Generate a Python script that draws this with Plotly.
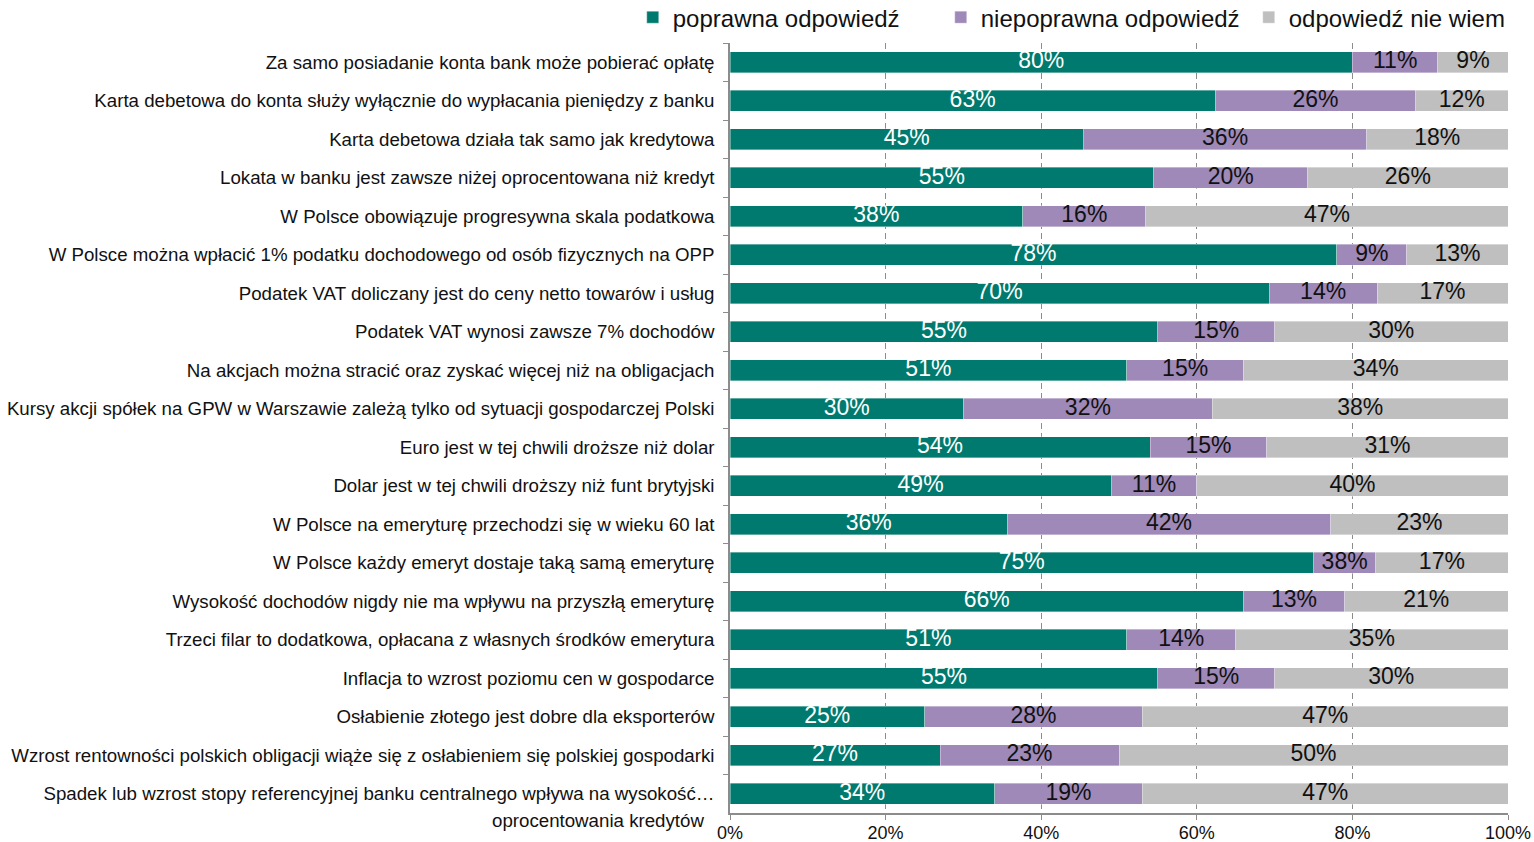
import plotly.graph_objects as go

categories = [
    "Za samo posiadanie konta bank może pobierać opłatę",
    "Karta debetowa do konta służy wyłącznie do wypłacania pieniędzy z banku",
    "Karta debetowa działa tak samo jak kredytowa",
    "Lokata w banku jest zawsze niżej oprocentowana niż kredyt",
    "W Polsce obowiązuje progresywna skala podatkowa",
    "W Polsce można wpłacić 1% podatku dochodowego od osób fizycznych na OPP",
    "Podatek VAT doliczany jest do ceny netto towarów i usług",
    "Podatek VAT wynosi zawsze 7% dochodów",
    "Na akcjach można stracić oraz zyskać więcej niż na obligacjach",
    "Kursy akcji spółek na GPW w Warszawie zależą tylko od sytuacji gospodarczej Polski",
    "Euro jest w tej chwili droższe niż dolar",
    "Dolar jest w tej chwili droższy niż funt brytyjski",
    "W Polsce na emeryturę przechodzi się w wieku 60 lat",
    "W Polsce każdy emeryt dostaje taką samą emeryturę",
    "Wysokość dochodów nigdy nie ma wpływu na przyszłą emeryturę",
    "Trzeci filar to dodatkowa, opłacana z własnych środków emerytura",
    "Inflacja to wzrost poziomu cen w gospodarce",
    "Osłabienie złotego jest dobre dla eksporterów",
    "Wzrost rentowności polskich obligacji wiąże się z osłabieniem się polskiej gospodarki",
    "Spadek lub wzrost stopy referencyjnej banku centralnego wpływa na wysokość…",
]
last_label_second_line = "oprocentowania kredytów"

correct = [80, 63, 45, 55, 38, 78, 70, 55, 51, 30, 54, 49, 36, 75, 66, 51, 55, 25, 27, 34]
incorrect = [11, 26, 36, 20, 16, 9, 14, 15, 15, 32, 15, 11, 42, 8, 13, 14, 15, 28, 23, 19]
dont_know = [9, 12, 18, 26, 47, 13, 17, 30, 34, 38, 31, 40, 23, 17, 21, 35, 30, 47, 50, 47]

# displayed labels (as printed on the chart)
correct_lbl = [f"{v}%" for v in correct]
incorrect_lbl = ["11%", "26%", "36%", "20%", "16%", "9%", "14%", "15%", "15%", "32%",
                 "15%", "11%", "42%", "38%", "13%", "14%", "15%", "28%", "23%", "19%"]
dont_know_lbl = [f"{v}%" for v in dont_know]

series_names = ["poprawna odpowiedź", "niepoprawna odpowiedź", "odpowiedź nie wiem"]
colors = ["#007A6E", "#9E89B8", "#BFBFBF"]
text_colors = ["#FFFFFF", "#111111", "#111111"]

FONT = "Liberation Sans, Arial, sans-serif"

fig = go.Figure()
series = [correct, incorrect, dont_know]
labels = [correct_lbl, incorrect_lbl, dont_know_lbl]

for name, vals, col in zip(series_names, series, colors):
    fig.add_trace(go.Bar(
        y=categories, x=vals, name=name, orientation="h",
        marker=dict(color=col, line=dict(color="rgba(255,255,255,0.6)", width=0.6)),
        hoverinfo="x+y",
    ))

# label positions computed from normalized data
totals = [a + b + c for a, b, c in zip(correct, incorrect, dont_know)]
starts = [0.0] * len(categories)
for vals, lbls, tcol in zip(series, labels, text_colors):
    xs = []
    for i, v in enumerate(vals):
        share = 100.0 * v / totals[i]
        xs.append(starts[i] + share / 2)
        starts[i] += share
    fig.add_trace(go.Scatter(
        x=xs, y=categories, mode="text", text=lbls,
        textfont=dict(family=FONT, size=23, color=tcol),
        showlegend=False, hoverinfo="skip", cliponaxis=False,
    ))

fig.add_annotation(
    text=last_label_second_line, xref="paper", yref="paper", x=0, y=0,
    xanchor="right", yanchor="middle", xshift=-24, yshift=-7, showarrow=False,
    font=dict(family=FONT, size=18.7, color="#111111"),
)

fig.update_layout(
    width=1534, height=842,
    barmode="stack", barnorm="percent", bargap=0.455,
    plot_bgcolor="white", paper_bgcolor="white",
    margin=dict(l=730, r=26, t=43, b=29, autoexpand=False),
    font=dict(family=FONT, size=18, color="#111111"),
    legend=dict(
        orientation="h", x=-0.125, xanchor="left", y=1.033, yanchor="middle",
        font=dict(family=FONT, size=24, color="#111111"),
        itemwidth=30, traceorder="normal", bgcolor="rgba(0,0,0,0)",
        tracegroupgap=0, entrywidth=263, entrywidthmode="pixels",
    ),
    showlegend=True,
)

fig.update_xaxes(
    range=[0, 100], dtick=20, tick0=0, ticksuffix="%",
    showgrid=True, gridcolor="#8C8C8C", griddash="6px,4px", gridwidth=1,
    showline=True, linecolor="#8C8C8C", linewidth=1.5,
    ticks="outside", ticklen=5, tickcolor="#8C8C8C",
    tickfont=dict(family=FONT, size=18, color="#111111"),
    ticklabelstandoff=-2,
    zeroline=False, fixedrange=True,
)
fig.update_yaxes(
    type="category", autorange=False, range=[len(categories) - 0.5, -0.5],
    showgrid=False, showline=True, linecolor="#8C8C8C", linewidth=1.5,
    ticks="outside", ticklen=5, tickcolor="#8C8C8C", tickson="boundaries",
    tickfont=dict(family=FONT, size=18.7, color="#111111"),
    ticklabelstandoff=10, fixedrange=True,
)

fig.write_html("out.html")
